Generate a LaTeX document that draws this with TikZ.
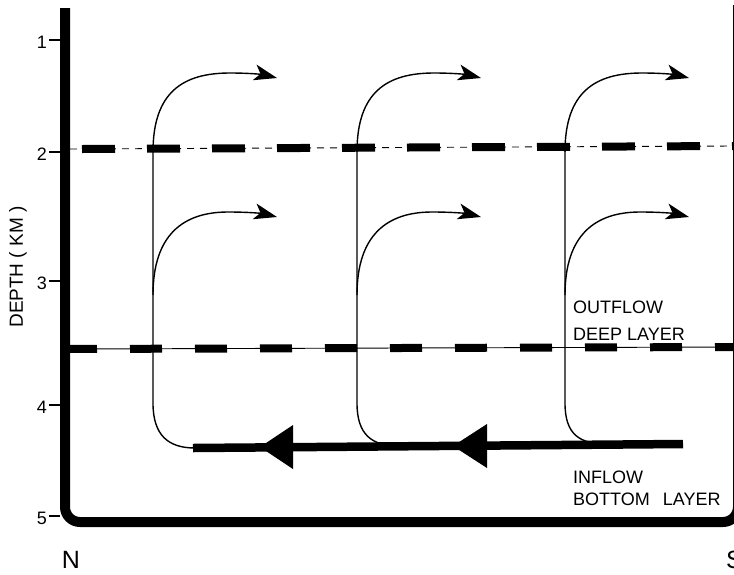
\documentclass[tikz,border=0pt]{standalone}
\usepackage{fontspec}
\setmainfont{Liberation Sans}
\usetikzlibrary{arrows.meta}
\begin{document}
\begin{tikzpicture}[x=1pt,y=-1pt,
  wall/.style={line width=10pt,line join=round,rounded corners=15pt},
  tickmark/.style={line width=1.4pt},
  ticklabel/.style={anchor=east,inner sep=0pt,font=\fontsize{18}{18}\selectfont},
  bigdash/.style={line width=8pt},
  thinline/.style={line width=0.9pt},
  flow/.style={line width=1.4pt},
  flowtip/.style={-{Stealth[length=23pt,width=16pt,inset=6pt]}},
  label/.style={anchor=base west,inner sep=0pt,font=\fontsize{18}{18}\selectfont},
  compass/.style={inner sep=0pt,font=\fontsize{25}{25}\selectfont}]
\useasboundingbox (0,0) rectangle (734,574);

% layer boundaries: thin line with heavy dashes on top
\draw[thinline,dash pattern=on 7pt off 6pt] (70,149) -- (734,146);
\draw[bigdash,dash pattern=on 33pt off 32pt] (82,149) -- (734,146);
\draw[thinline] (70,349) -- (734,347);
\draw[bigdash,dash pattern=on 32pt off 33pt] (65,349) -- (734,347);

% bottom inflow
\coordinate (inA) at (193,448);
\coordinate (inB) at (683,444);
\draw[line width=8.5pt] (inA) -- (inB);
\fill (260,447) -- (293,425) -- (293,469) -- cycle;
\fill (453,446) -- (487,424) -- (487,468) -- cycle;

% rising limbs with outflow branches
\foreach \x/\b in {153/448, 357/446, 565/444}{
  \draw[flow] (\x+42,\b) .. controls (\x+15,\b) and (\x,435) .. (\x,403) -- (\x,150);
  \draw[flow,flowtip] (\x,152) .. controls (\x,92) and (\x+30,73) .. (\x+77,73)
      .. controls (\x+100,73) and (\x+112,75) .. (\x+124,78);
  \draw[flow,flowtip] (\x,295) .. controls (\x,235) and (\x+30,212) .. (\x+75,212)
      .. controls (\x+100,212) and (\x+112,214) .. (\x+124,217);
}

% basin walls
\draw[wall] (65,8) -- (65,522) -- (738,522) -- (738,5);

% depth axis
\foreach \d/\y in {1/40, 2/152, 3/281, 4/405, 5/516}{
  \draw[tickmark] (49,\y) -- (60,\y);
  \node[ticklabel] (t\d) at (47,\y+2) {\d};
}
\node[rotate=90,inner sep=0pt,font=\fontsize{19}{19}\selectfont] (depth) at (18,267) {DEPTH ( KM )};

% labels
\node[label] (out1) at (573,313) {OUTFLOW};
\node[label] (out2) at (573,340) {DEEP LAYER};
\node[label] (in1) at (573,483) {INFLOW};
\node[label] (in2) at (573,505) {BOTTOM\hspace{0.45em} LAYER};
\node[compass] (north) at (71,560) {N};
\node[compass,anchor=west] (south) at (726,560) {S};
\end{tikzpicture}
\end{document}
